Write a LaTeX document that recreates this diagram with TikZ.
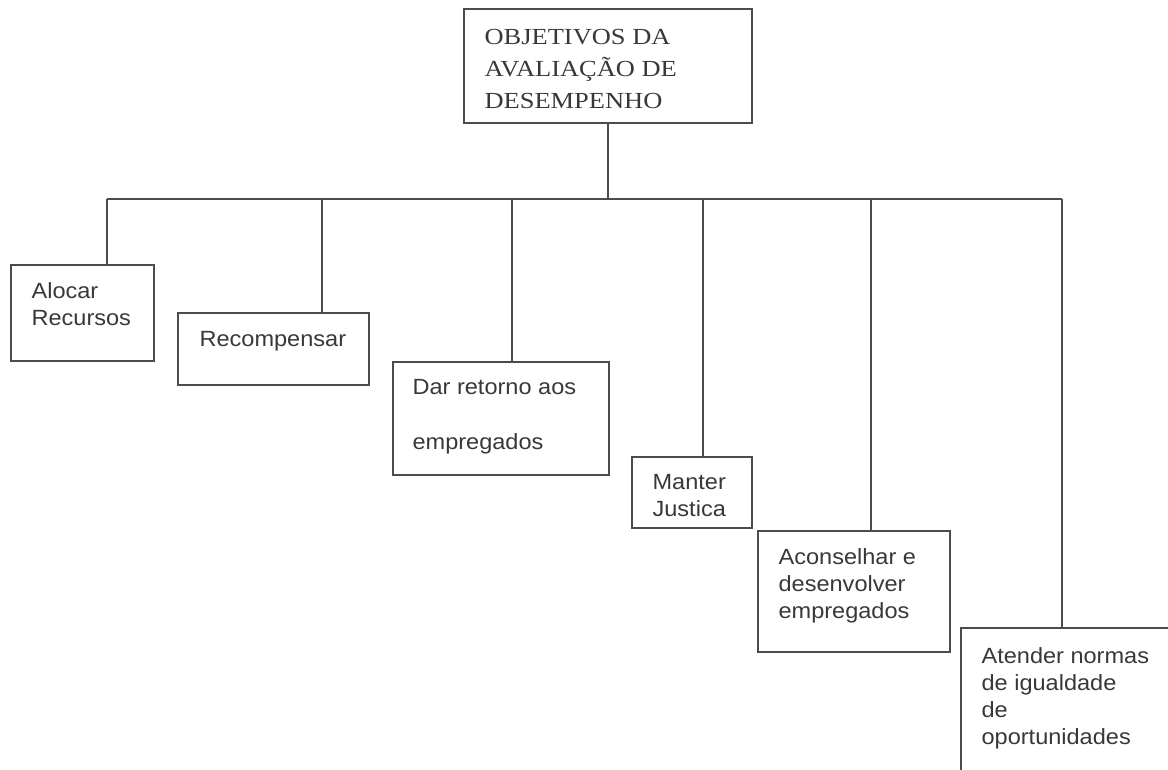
\documentclass[tikz,border=0pt]{standalone}
\usepackage{fontspec}
\newfontfamily\boxsans[FakeStretch=1.07]{Liberation Sans}
\newfontfamily\boxserif[FakeStretch=1.15]{Liberation Serif}
\tikzset{
	box/.style = {rectangle, draw = black!70, line width = 1.2pt, inner sep = 0pt},
	txt/.style = {anchor = north west, align = left, inner sep = 0pt, text = black!78,
		font = \boxsans\fontsize{22}{27}\selectfont},
	toptxt/.style = {txt, font = \boxserif\fontsize{23}{32}\selectfont}
}
\begin{document}
\begin{tikzpicture}[x=1pt,y=-1pt,draw=black!70,line width=1.2pt]
	\useasboundingbox (0,0) rectangle (1168,769);
	\clip (0,0) rectangle (1168,769);
	\node (top) at ( 608,  66  )	[box, minimum width = 288pt, minimum height = 114pt]	{};
	\node (alocar) at ( 82.5, 313 )	[box, minimum width = 143pt, minimum height = 96pt]	{};
	\node (recomp) at ( 273.5, 349 )	[box, minimum width = 191pt, minimum height = 72pt]	{};
	\node (retorno) at ( 501, 418.5 )	[box, minimum width = 216pt, minimum height = 113pt]	{};
	\node (manter) at ( 692, 492.5 )	[box, minimum width = 120pt, minimum height = 71pt]	{};
	\node (aconselhar) at ( 854, 591.5 )	[box, minimum width = 192pt, minimum height = 121pt]	{};
	\node (atender) at ( 1075.5, 714 )	[box, minimum width = 229pt, minimum height = 172pt]	{};
	\node (top-t) at ( 484, 28.5 )	[toptxt]	{OBJETIVOS DA\\AVALIAÇÃO DE\\DESEMPENHO};
	\node (alocar-t) at ( 31, 282 )	[txt]	{Alocar\\Recursos};
	\node (recomp-t) at ( 199, 331 )	[txt]	{Recompensar};
	\node (retorno-t) at ( 412, 379 )	[txt]	{Dar retorno aos\\[28pt]empregados};
	\node (manter-t) at ( 652, 474 )	[txt]	{Manter\\Justica};
	\node (aconselhar-t) at ( 778, 548 )	[txt]	{Aconselhar e\\desenvolver\\empregados};
	\node (atender-t) at ( 981, 647 )	[txt]	{Atender normas\\de igualdade\\de\\oportunidades};
	\coordinate (hub) at ( 608, 199 );
	\coordinate (b1) at ( 107, 199 );
	\coordinate (b2) at ( 322, 199 );
	\coordinate (b3) at ( 512, 199 );
	\coordinate (b4) at ( 703, 199 );
	\coordinate (b5) at ( 871, 199 );
	\coordinate (b6) at ( 1062, 199 );
	\draw (top.south) -- (hub);
	\draw (b1) -- (b6);
	\draw (b1) -- (b1 |- alocar.north);
	\draw (b2) -- (b2 |- recomp.north);
	\draw (b3) -- (b3 |- retorno.north);
	\draw (b4) -- (b4 |- manter.north);
	\draw (b5) -- (b5 |- aconselhar.north);
	\draw (b6) -- (b6 |- atender.north);
\end{tikzpicture}
\end{document}
